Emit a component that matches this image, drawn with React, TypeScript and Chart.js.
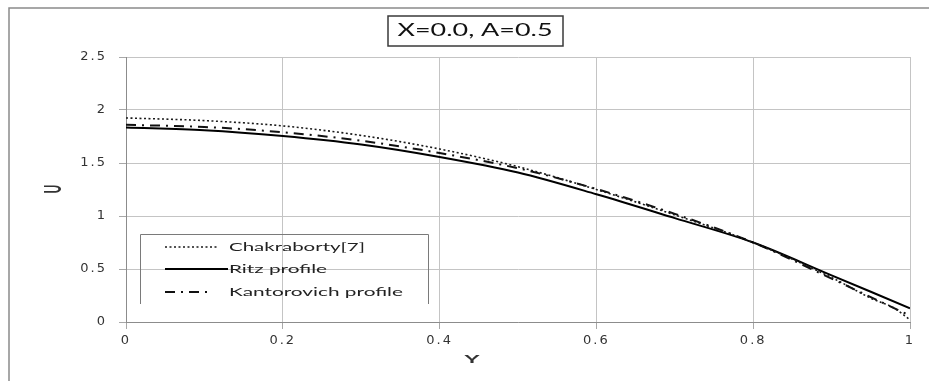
import React, { useEffect, useRef } from "react";
import { Chart, registerables } from "chart.js";

Chart.register(...registerables);

// ---- data ----
const titleText = "X=0.0, A=0.5";
const xAxisTitle = "Y";
const yAxisTitle = "U";
const xTickLabels = ["0", "0.2", "0.4", "0.6", "0.8", "1"];
const yTickLabels = ["0", "0.5", "1", "1.5", "2", "2.5"];

const chakrabortyY = [0, 0.1, 0.2, 0.3, 0.4, 0.5, 0.6, 0.7, 0.8, 0.9, 0.95, 0.98, 1.0];
const chakrabortyU = [1.925, 1.9, 1.85, 1.76, 1.632, 1.465, 1.25, 1.01, 0.75, 0.42, 0.225, 0.13, 0.02];

const ritzY = [0, 0.1, 0.2, 0.3, 0.4, 0.5, 0.6, 0.7, 0.8, 0.9, 1.0];
const ritzU = [1.835, 1.81, 1.755, 1.675, 1.557, 1.41, 1.205, 0.98, 0.75, 0.44, 0.13];

const kantorovichY = [0, 0.1, 0.2, 0.3, 0.4, 0.5, 0.6, 0.7, 0.8, 0.9, 0.95, 1.0];
const kantorovichU = [1.86, 1.84, 1.79, 1.71, 1.594, 1.45, 1.255, 1.02, 0.75, 0.41, 0.235, 0.06];

const seriesNames = ["Chakraborty[7]", "Ritz profile", "Kantorovich profile"];

const W = 929;
const H = 381;

function drawStretched(
  ctx: CanvasRenderingContext2D,
  text: string,
  x: number,
  y: number,
  targetW: number,
  font: string,
  align: "left" | "center"
) {
  ctx.save();
  ctx.font = font;
  const w = ctx.measureText(text).width;
  const sx = targetW / w;
  ctx.translate(align === "center" ? x - targetW / 2 : x, y);
  ctx.scale(sx, 1);
  ctx.textAlign = "left";
  ctx.textBaseline = "middle";
  ctx.fillText(text, 0, 0);
  ctx.restore();
}

const decorPlugin = {
  id: "decor",
  beforeDraw(chart: any) {
    const ctx: CanvasRenderingContext2D = chart.ctx;
    ctx.save();
    ctx.fillStyle = "#ffffff";
    ctx.fillRect(0, 0, W, H);
    ctx.strokeStyle = "#8a8a8a";
    ctx.lineWidth = 1.5;
    ctx.strokeRect(9, 8, W + 40, H + 40);
    ctx.restore();
    (ctx as any).letterSpacing = "2px";
  },
  afterDraw(chart: any) {
    const ctx: CanvasRenderingContext2D = chart.ctx;
    (ctx as any).letterSpacing = "0px";
    ctx.save();
    // title box
    ctx.strokeStyle = "#3a3a3a";
    ctx.lineWidth = 1.5;
    ctx.strokeRect(388, 16, 175, 30);
    ctx.fillStyle = "#111";
    drawStretched(ctx, titleText, 475, 31, 155, "17px Lato", "center");

    // axis titles
    ctx.fillStyle = "#333";
    ctx.save();
    ctx.translate(54, 189);
    ctx.scale(1.9, 1);
    ctx.rotate(-Math.PI / 2);
    ctx.font = "bold 12px Lato";
    ctx.textAlign = "center";
    ctx.textBaseline = "middle";
    ctx.fillText(yAxisTitle, 0, 0);
    ctx.restore();
    drawStretched(ctx, xAxisTitle, 472, 359, 15, "bold 12px Lato", "center");

    // legend box (top, left, right sides)
    ctx.strokeStyle = "#7a7a7a";
    ctx.lineWidth = 1;
    ctx.beginPath();
    ctx.moveTo(140.5, 304);
    ctx.lineTo(140.5, 234.5);
    ctx.lineTo(428.5, 234.5);
    ctx.lineTo(428.5, 304);
    ctx.stroke();

    const ds = chart.data.datasets;
    const rows = [
      { y: 247, x2: 218, w: 136 },
      { y: 269, x2: 228, w: 98 },
      { y: 292, x2: 213, w: 174 },
    ];
    rows.forEach((r, i) => {
      const d = ds[i];
      ctx.save();
      ctx.strokeStyle = d.borderColor;
      ctx.lineWidth = d.borderWidth;
      ctx.setLineDash(d.borderDash || []);
      ctx.beginPath();
      ctx.moveTo(165, r.y);
      ctx.lineTo(r.x2, r.y);
      ctx.stroke();
      ctx.restore();
      ctx.fillStyle = "#222";
      drawStretched(ctx, seriesNames[i], 229, r.y, r.w, "11px Lato", "left");
    });
    ctx.restore();
  },
};

export default function App() {
  const ref = useRef<HTMLCanvasElement>(null);

  useEffect(() => {
    if (!ref.current) return;
    const toPts = (xs: number[], ys: number[]) => xs.map((x, i) => ({ x, y: ys[i] }));
    const tickFont = { family: "DejaVu Sans", size: 13 };
    const chart = new Chart(ref.current, {
      type: "line",
      data: {
        datasets: [
          {
            label: seriesNames[0],
            data: toPts(chakrabortyY, chakrabortyU),
            borderColor: "#1a1a1a",
            borderWidth: 1.6,
            borderDash: [2, 2.5],
            pointRadius: 0,
            cubicInterpolationMode: "monotone",
            fill: false,
          },
          {
            label: seriesNames[1],
            data: toPts(ritzY, ritzU),
            borderColor: "#000000",
            borderWidth: 2,
            pointRadius: 0,
            cubicInterpolationMode: "monotone",
            fill: false,
          },
          {
            label: seriesNames[2],
            data: toPts(kantorovichY, kantorovichU),
            borderColor: "#111111",
            borderWidth: 2,
            borderDash: [10, 6, 2, 6],
            pointRadius: 0,
            cubicInterpolationMode: "monotone",
            fill: false,
          },
        ],
      },
      options: {
        responsive: false,
        animation: false,
        devicePixelRatio: 1,
        layout: { padding: { left: 0, right: 19, top: 57, bottom: 0 } },
        plugins: {
          legend: { display: false },
          title: { display: false },
          tooltip: { enabled: false },
        },
        scales: {
          x: {
            type: "linear",
            min: 0,
            max: 1,
            ticks: {
              stepSize: 0.2,
              font: tickFont,
              color: "#333333",
              padding: 4,
              maxRotation: 0,
              callback: (_v: any, i: number) => xTickLabels[i],
            },
            grid: { color: "#c4c4c4", tickLength: 7, tickColor: "#a8a8a8" },
            border: { color: "#8c8c8c" },
            afterFit: (s: any) => {
              s.height = 59;
            },
          },
          y: {
            min: 0,
            max: 2.5,
            ticks: {
              stepSize: 0.5,
              font: tickFont,
              color: "#333333",
              padding: 12,
              callback: (_v: any, i: number) => yTickLabels[i],
            },
            grid: { color: "#c4c4c4", tickLength: 7, tickColor: "#a8a8a8" },
            border: { color: "#8c8c8c" },
            afterFit: (s: any) => {
              s.width = 126;
            },
          },
        },
      } as any,
      plugins: [decorPlugin],
    });
    return () => chart.destroy();
  }, []);

  return (
    <div style={{ position: "fixed", left: 0, top: 0, width: W, height: H, background: "#fff" }}>
      <canvas ref={ref} width={W} height={H} style={{ display: "block" }} />
    </div>
  );
}
